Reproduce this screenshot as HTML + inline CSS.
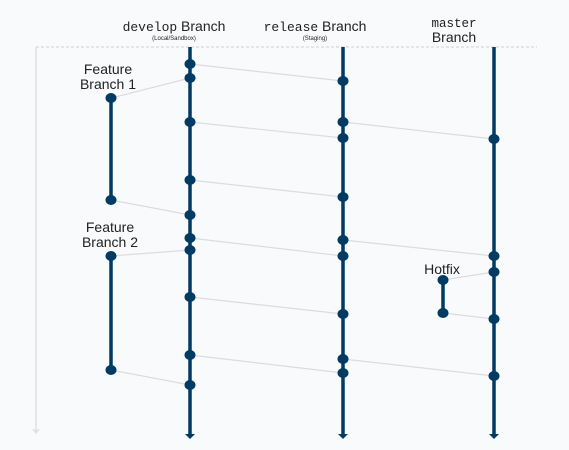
<!DOCTYPE html><html><head><style>body{margin:0;background:#f9fafc}</style></head><body>
<svg width="569" height="450" xmlns="http://www.w3.org/2000/svg" style="display:block">
<rect width="569" height="450" fill="#f9fafc"/>
<line x1="36" y1="47" x2="537" y2="47" stroke="#d0d0d0" stroke-dasharray="3,2"/>
<line x1="36" y1="47" x2="36" y2="432" stroke="#e0e0e0" stroke-width="1.5"/>
<path d="M33 429 L36 433 L39 429" fill="none" stroke="#e0e0e0" stroke-width="1.5"/>
<g stroke="#dcdcdc" stroke-width="1.2">
<line x1="190" y1="64" x2="343" y2="81"/><line x1="111" y1="98" x2="190" y2="78"/>
<line x1="190" y1="122" x2="343" y2="138"/><line x1="343" y1="122" x2="494" y2="139"/>
<line x1="190" y1="180" x2="343" y2="197"/><line x1="111" y1="200" x2="190" y2="215"/>
<line x1="190" y1="238" x2="343" y2="256"/><line x1="343" y1="240" x2="494" y2="256"/>
<line x1="111" y1="256" x2="190" y2="250"/><line x1="190" y1="297" x2="343" y2="314"/>
<line x1="443" y1="280" x2="494" y2="272"/><line x1="443" y1="313" x2="494" y2="319"/>
<line x1="190" y1="355" x2="343" y2="373"/><line x1="343" y1="359" x2="494" y2="376"/>
<line x1="111" y1="370" x2="190" y2="385"/>
</g>
<g stroke="#003b64" stroke-width="3.5">
<line x1="190" y1="47" x2="190" y2="434"/><line x1="343" y1="47" x2="343" y2="434"/><line x1="494" y1="47" x2="494" y2="434"/>
<line x1="111" y1="98" x2="111" y2="200"/><line x1="111" y1="256" x2="111" y2="370"/><line x1="443" y1="280" x2="443" y2="313"/>
</g>
<g fill="#003b64">
<path d="M185 434 L195 434 L190 439Z"/><path d="M338 434 L348 434 L343 439Z"/><path d="M489 434 L499 434 L494 439Z"/>
<ellipse cx="190" cy="64" rx="5.5" ry="5"/><ellipse cx="190" cy="78" rx="5.5" ry="5"/><ellipse cx="190" cy="122" rx="5.5" ry="5"/><ellipse cx="190" cy="180" rx="5.5" ry="5"/><ellipse cx="190" cy="215" rx="5.5" ry="5"/><ellipse cx="190" cy="238" rx="5.5" ry="5"/><ellipse cx="190" cy="250" rx="5.5" ry="5"/><ellipse cx="190" cy="297" rx="5.5" ry="5"/><ellipse cx="190" cy="355" rx="5.5" ry="5"/><ellipse cx="190" cy="385" rx="5.5" ry="5"/>
<ellipse cx="343" cy="81" rx="5.5" ry="5"/><ellipse cx="343" cy="122" rx="5.5" ry="5"/><ellipse cx="343" cy="138" rx="5.5" ry="5"/><ellipse cx="343" cy="197" rx="5.5" ry="5"/><ellipse cx="343" cy="240" rx="5.5" ry="5"/><ellipse cx="343" cy="256" rx="5.5" ry="5"/><ellipse cx="343" cy="314" rx="5.5" ry="5"/><ellipse cx="343" cy="359" rx="5.5" ry="5"/><ellipse cx="343" cy="373" rx="5.5" ry="5"/>
<ellipse cx="494" cy="139" rx="5.5" ry="5"/><ellipse cx="494" cy="256" rx="5.5" ry="5"/><ellipse cx="494" cy="272" rx="5.5" ry="5"/><ellipse cx="494" cy="319" rx="5.5" ry="5"/><ellipse cx="494" cy="376" rx="5.5" ry="5"/>
<ellipse cx="111" cy="98" rx="5.5" ry="5"/><ellipse cx="111" cy="200" rx="5.5" ry="5"/><ellipse cx="111" cy="256" rx="5.5" ry="5"/><ellipse cx="111" cy="370" rx="5.5" ry="5"/>
<ellipse cx="443" cy="280" rx="5.5" ry="5"/><ellipse cx="443" cy="313" rx="5.5" ry="5"/>
</g>
<g fill="#222" font-family="Liberation Sans, sans-serif" text-anchor="middle">
<text x="174" y="31" font-size="14"><tspan font-family="Liberation Mono, monospace" font-size="13">develop</tspan> Branch</text>
<text x="174" y="40" font-size="6">(Local/Sandbox)</text>
<text x="315" y="31" font-size="14"><tspan font-family="Liberation Mono, monospace" font-size="13">release</tspan> Branch</text>
<text x="315" y="40" font-size="6">(Staging)</text>
<text x="454" y="27" font-size="12.5" font-family="Liberation Mono, monospace">master</text>
<text x="454" y="42" font-size="14">Branch</text>
<text x="108" y="74" font-size="14">Feature</text><text x="108" y="89" font-size="14">Branch 1</text>
<text x="110" y="232" font-size="14">Feature</text><text x="110" y="247" font-size="14">Branch 2</text>
<text x="442" y="274" font-size="14">Hotfix</text>
</g>
</svg></body></html>
